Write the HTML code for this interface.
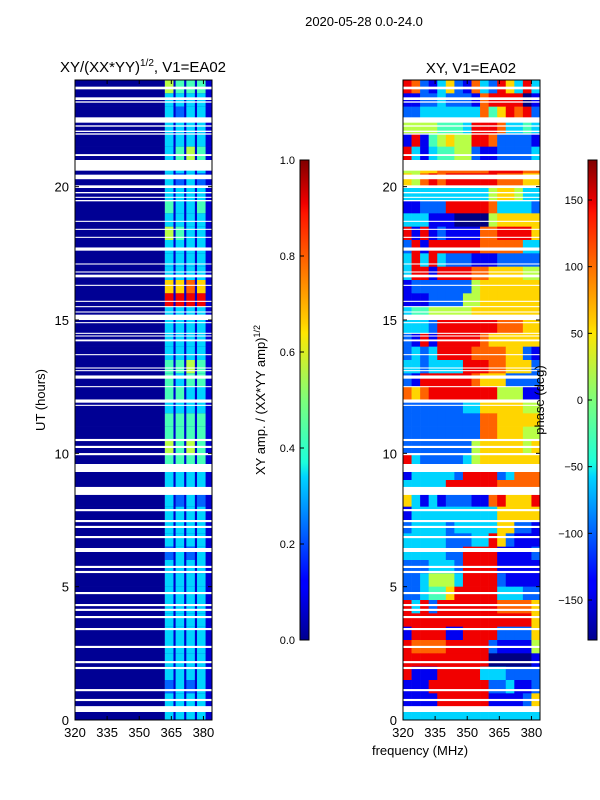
<!DOCTYPE html>
<html><head><meta charset="utf-8"><style>
body{margin:0;background:#fff;}
svg{display:block;font-family:"Liberation Sans",sans-serif;}
</style></head><body>
<svg id="fig" width="600" height="800" viewBox="0 0 600 800">
<text x="364" y="26" font-size="13" text-anchor="middle">2020-05-28 0.0-24.0</text>
<text x="143" y="72" font-size="15" text-anchor="middle">XY/(XX*YY)<tspan font-size="10" dy="-6">1/2</tspan><tspan dy="6">, V1=EA02</tspan></text>
<text x="471" y="73" font-size="15" text-anchor="middle">XY, V1=EA02</text>
<g id="amp"></g>
<g id="pha"></g>
<g id="flags"></g>
<g id="axes"></g>
<text transform="translate(45,400) rotate(-90)" font-size="13" text-anchor="middle">UT (hours)</text>
<text x="420" y="755" font-size="13" text-anchor="middle">frequency (MHz)</text>
<text transform="translate(265,400) rotate(-90)" font-size="13" text-anchor="middle">XY amp. / (XX*YY amp)<tspan font-size="9" dy="-5">1/2</tspan></text>
<text transform="translate(544,400) rotate(-90)" font-size="13" text-anchor="middle">phase (deg)</text>
<defs><linearGradient id="jetg" x1="0" y1="1" x2="0" y2="0">
<stop offset="0" stop-color="#00008f"/><stop offset="0.11" stop-color="#0000ff"/><stop offset="0.125" stop-color="#0000ff"/><stop offset="0.34" stop-color="#00d4ff"/><stop offset="0.37" stop-color="#1cffdb"/><stop offset="0.5" stop-color="#7dff7a"/><stop offset="0.64" stop-color="#ffe600"/><stop offset="0.66" stop-color="#ffd000"/><stop offset="0.89" stop-color="#ff1300"/><stop offset="0.91" stop-color="#f00000"/><stop offset="1" stop-color="#800000"/>
</linearGradient></defs>
<rect x="300" y="160" width="9" height="480" fill="url(#jetg)" stroke="#000" stroke-width="1"/>
<rect x="588" y="160" width="9" height="480" fill="url(#jetg)" stroke="#000" stroke-width="1"/>
<g id="cb"></g>
</svg>
<script>
const freqMin = 320, freqMax = 384, hourMin = 0, hourMax = 24;
const xTicks = [320, 335, 350, 365, 380];
const yTicks = [0, 5, 10, 15, 20];
const ampTicks = ["0.0","0.2","0.4","0.6","0.8","1.0"];
const phaseTicks = [-150, -100, -50, 0, 50, 100, 150];
// amplitude: 4 sub-band levels (0-9) per half-hour row, from 24h down to 0h
const ampBands = ["5444","3333","3233","3333","3333","3454","3333","3232","3333","4334","3333","5433",
"3333","3333","3333","6676","8888","3333","3333","3333","3333","4454","4344","4433",
"3333","4444","4444","5454","4444","3333","3333","3232","3333","3333","3333","2323",
"3333","3333","3333","3333","3333","3333","3333","3333","3333","2323","3333","3333"];
const ampBandEdges = [[362,366],[367,371],[372,376],[377,381]];
const ampBackground = 0.02, ampGap = 0.08;
// phase: 16 columns (4 MHz), digits 0-9 => -180..180
const phaseRows = ["8721362173286383","1122322217888801","2233333337468782","5555444388873343",
"1814565588722221","8313445521122223","5566777777888877","6578788888877766","3333333333566533",
"1122288888733332","3331110000566666","8181211117788886","2818888887777733","3838322211122222",
"3881888877666655","1222222256666666","1112222556666666","3445555566666666","3332888888877766",
"2181888887666666","2323888877776621","3323333888776662","2188888876662222","7678888888855511",
"2222222336666655","2222222227766666","2222222227766655","2222222256666656","8322222356666666",
"1333332888823777","3333388888877777","6313122211786668","1333333333366666","2333323333366221",
"3333322233862111","3333322888811112","2223332888811111","2235553888821111","2234468888833322",
"8382888888877776","8888888888888886","1888811888822226","8777788888211115","8888888888000001",
"8111888883332222","1118888888223112","1111888888111126","3333333333333333"];
const flagStart = [23.65,23.25,23.15,22.4,22.25,22.05,21.95,21.15,20.6,20.28,19.95,19.75,19.58,19.45,18.68,18.38,18.08,17.6,17.08,16.78,16.6,16.28,15.68,15.48,15.28,15.0,14.88,14.48,14.38,14.2,13.68,13.18,13.08,12.8,12.48,11.9,11.78,10.46,10.2,9.93,9.3,8.44,7.83,7.42,7.2,6.82,6.3,5.7,5.51,4.72,4.27,4.09,3.82,3.37,2.7,2.13,1.91,1.08,0.71,0.3];
const flagEnd   = [23.75,23.35,23.2,22.6,22.3,22.1,22.0,21.22,21.0,20.45,20.05,19.8,19.62,19.5,18.72,18.42,18.12,17.72,17.12,16.82,16.7,16.32,15.72,15.52,15.32,15.2,14.92,14.52,14.42,14.27,13.72,13.22,13.12,12.92,12.52,12.02,11.82,10.54,10.28,10.01,9.6,8.74,7.91,7.5,7.28,6.9,6.45,5.78,5.59,4.8,4.35,4.17,3.9,3.45,2.78,2.21,1.99,1.16,0.79,0.52];

function jet(t){t=Math.max(0,Math.min(1,t));
 const f=x=>Math.round(255*Math.max(0,Math.min(1,x)));
 return `rgb(${f(1.5-Math.abs(4*t-3))},${f(1.5-Math.abs(4*t-2))},${f(1.5-Math.abs(4*t-1))})`;}
const NS="http://www.w3.org/2000/svg";
function mk(tag,attrs,parent){const e=document.createElementNS(NS,tag);for(const k in attrs)e.setAttribute(k,attrs[k]);parent.appendChild(e);return e;}
const panels=[{x0:75,x1:212,g:"amp"},{x0:403,x1:540,g:"pha"}];
const yTop=80,yBot=720;
const yS=h=>yBot-(h-hourMin)/(hourMax-hourMin)*(yBot-yTop);
function xS(p,f){return p.x0+(f-freqMin)/(freqMax-freqMin)*(p.x1-p.x0);}
const rowH=(hourMax-hourMin)/ampBands.length;
const ga=document.getElementById("amp");
ampBands.forEach((row,i)=>{
 const hT=hourMax-i*rowH, hB=hT-rowH;
 let r=mk("rect",{x:xS(panels[0],freqMin),y:yS(hT),width:xS(panels[0],362)-xS(panels[0],freqMin),height:yS(hB)-yS(hT)+0.3,fill:jet(ampBackground)},ga);
 
 
 r=mk("rect",{x:xS(panels[0],362),y:yS(hT),width:xS(panels[0],freqMax)-xS(panels[0],362),height:yS(hB)-yS(hT)+0.3,fill:jet(ampGap)},ga);
 
 
 ampBandEdges.forEach((b,j)=>{
  const c=mk("rect",{x:xS(panels[0],b[0]),y:yS(hT),width:xS(panels[0],b[1])-xS(panels[0],b[0]),height:yS(hB)-yS(hT)+0.3,fill:jet(+row[j]/9)},ga);
  
  
 });
});
const gp=document.getElementById("pha");
phaseRows.forEach((row,i)=>{
 const hT=hourMax-i*(hourMax-hourMin)/phaseRows.length, hB=hT-(hourMax-hourMin)/phaseRows.length;
 const n=row.length, df=(freqMax-freqMin)/n;
 for(let j=0;j<n;j++){
  const ph=-180+(+row[j])*40;
  const c=mk("rect",{x:xS(panels[1],freqMin+j*df),y:yS(hT),width:xS(panels[1],freqMin+(j+1)*df)-xS(panels[1],freqMin+j*df)+0.3,height:yS(hB)-yS(hT)+0.3,fill:jet((ph+180)/360)},gp);
  
  
 }
});
const gf=document.getElementById("flags");
flagStart.forEach((s,i)=>{
 panels.forEach(p=>{
  const r=mk("rect",{x:p.x0,y:yS(flagEnd[i]),width:p.x1-p.x0,height:yS(s)-yS(flagEnd[i]),fill:"#fff"},gf);
  
  
 });
});
const gx=document.getElementById("axes");
panels.forEach((p,pi)=>{
 const fr=mk("rect",{x:p.x0,y:yTop,width:p.x1-p.x0,height:yBot-yTop,fill:"none",stroke:"#000","stroke-width":1},gx);
 
 
 xTicks.forEach(v=>{const x=xS(p,v);
  mk("line",{x1:x,x2:x,y1:yBot,y2:yBot-4,stroke:"#000"},gx);
  mk("line",{x1:x,x2:x,y1:yTop,y2:yTop+4,stroke:"#000"},gx);
  const t=mk("text",{x:x,y:yBot+17,"font-size":13,"text-anchor":"middle"},gx);t.textContent=v;
  
  });
 yTicks.forEach(v=>{const y=yS(v);
  mk("line",{x1:p.x0,x2:p.x0+4,y1:y,y2:y,stroke:"#000"},gx);
  mk("line",{x1:p.x1,x2:p.x1-4,y1:y,y2:y,stroke:"#000"},gx);
  const t=mk("text",{x:p.x0-6,y:y+5,"font-size":13,"text-anchor":"end"},gx);t.textContent=v;
  
  });
});
const gc=document.getElementById("cb");
ampTicks.forEach((v,i)=>{const y=640-i*96;
 mk("line",{x1:300,x2:304,y1:y,y2:y,stroke:"#000"},gc);
 const t=mk("text",{x:295,y:y+4,"font-size":11,"text-anchor":"end"},gc);t.textContent=v;
 
 });
phaseTicks.forEach(v=>{const y=400-v/180*240;
 mk("line",{x1:588,x2:592,y1:y,y2:y,stroke:"#000"},gc);
 const t=mk("text",{x:583,y:y+4,"font-size":11,"text-anchor":"end"},gc);t.textContent=v<0?"\u2212"+(-v):v;
 
 });
</script>
</body></html>
